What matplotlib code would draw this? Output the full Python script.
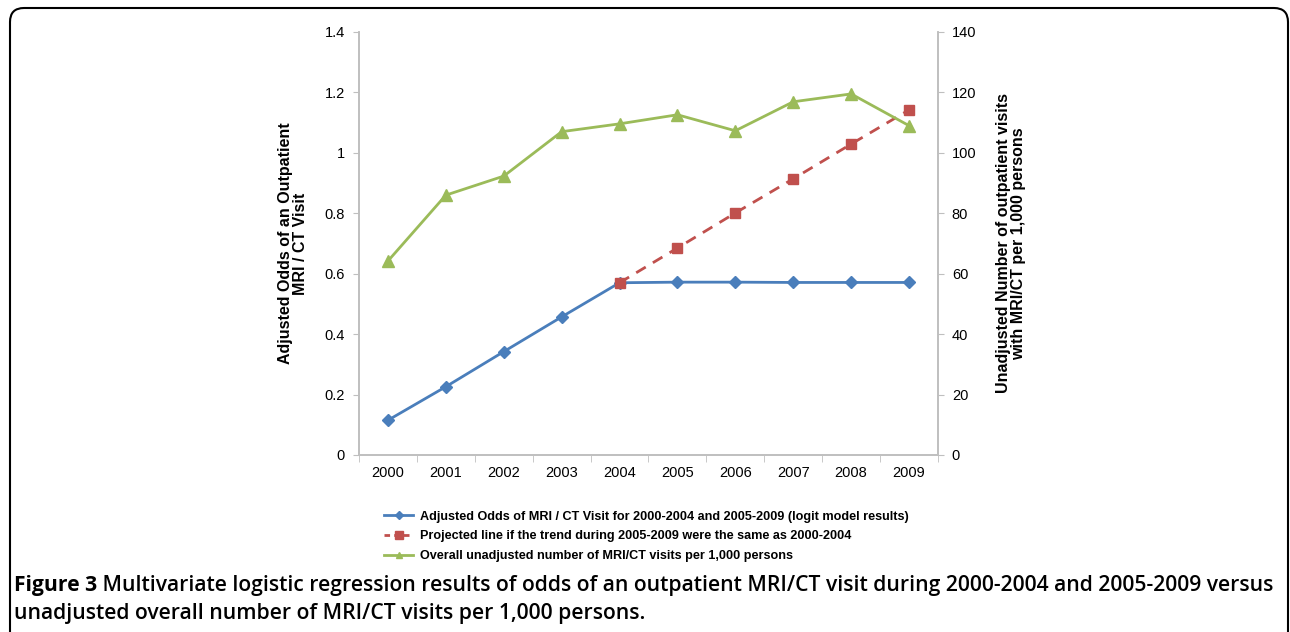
import matplotlib
matplotlib.use("Agg")
import matplotlib.pyplot as plt
from matplotlib.patches import FancyBboxPatch
from matplotlib.lines import Line2D
from matplotlib.transforms import IdentityTransform
from matplotlib import font_manager

years = ["2000", "2001", "2002", "2003", "2004", "2005", "2006", "2007", "2008", "2009"]
adjusted_odds = [0.115, 0.226, 0.342, 0.457, 0.570, 0.572, 0.572, 0.571, 0.571, 0.571]
projected_years = ["2004", "2005", "2006", "2007", "2008", "2009"]
projected_odds = [0.570, 0.685, 0.801, 0.914, 1.029, 1.142]
visits_per_1000 = [64.2, 86.0, 92.3, 107.0, 109.6, 112.6, 107.3, 116.9, 119.5, 109.0]

BLUE = "#4A7EBB"
RED = "#C0504D"
GREEN = "#9BBB59"
GRID = "#BFBFBF"

plt.rcParams["font.family"] = ["Liberation Sans", "DejaVu Sans"]

fig = plt.figure(figsize=(12.9, 6.32), dpi=100)
ax = fig.add_axes([0.2783, 0.2801, 0.4488, 0.6693])
ax2 = ax.twinx()

x = list(range(len(years)))
px = [years.index(y) for y in projected_years]

ax.plot(x, adjusted_odds, color=BLUE, lw=2, marker="D", ms=6, zorder=3)
ax.plot(px, projected_odds, color=RED, lw=2, ls=(0, (4, 3)), marker="s", ms=7.5, zorder=4)
ax2.plot(x, visits_per_1000, color=GREEN, lw=2, marker="^", ms=8)

ax.set_xlim(-0.5, len(years) - 0.5)
ax.set_ylim(0, 1.4)
ax2.set_ylim(0, 140)
ax.set_yticks([0, 0.2, 0.4, 0.6, 0.8, 1.0, 1.2, 1.4])
ax.set_yticklabels(["0", "0.2", "0.4", "0.6", "0.8", "1", "1.2", "1.4"])
ax2.set_yticks(range(0, 141, 20))
ax.set_xticks(x)
ax.set_xticklabels(years)
ax.set_xticks([i - 0.5 for i in range(len(years) + 1)], minor=True)
ax.tick_params(axis="x", which="major", length=0, pad=8, labelsize=10.5)
ax.tick_params(axis="x", which="minor", length=5, color=GRID, direction="out")
ax.tick_params(axis="y", length=4, color=GRID, labelsize=10.5, pad=6)
ax2.tick_params(axis="y", length=4, color=GRID, labelsize=10.5, pad=6)

for a in (ax, ax2):
    a.spines["top"].set_visible(False)
    for s in ("left", "right", "bottom"):
        a.spines[s].set_color(GRID)
        a.spines[s].set_linewidth(1.2)
    a.set_facecolor("none")

ax.set_ylabel("Adjusted Odds of an Outpatient\nMRI / CT Visit", fontsize=11.5, fontweight="bold",
              labelpad=12, linespacing=1.0)
ax2.set_ylabel("Unadjusted Number of outpatient visits\nwith MRI/CT per 1,000 persons", fontsize=11.5,
               fontweight="bold", rotation=90, labelpad=14, linespacing=1.0)

handles = [
    Line2D([], [], color=BLUE, lw=2, marker="D", ms=4),
    Line2D([], [], color=RED, lw=2, ls=(0, (2, 1.5)), marker="s", ms=6),
    Line2D([], [], color=GREEN, lw=2, marker="^", ms=5),
]
labels = [
    "Adjusted Odds of MRI / CT Visit for 2000-2004 and 2005-2009 (logit model results)",
    "Projected line if the trend during 2005-2009 were the same as 2000-2004",
    "Overall unadjusted number of MRI/CT visits per 1,000 persons",
]
fig.legend(handles, labels, loc="upper left", bbox_to_anchor=(0.298, 0.192), frameon=False,
           prop={"weight": "bold", "size": 9.1}, handlelength=2.3, handletextpad=0.5,
           labelspacing=0.62, borderpad=0, borderaxespad=0)

box = FancyBboxPatch((10, -30), 1278, 654, boxstyle="round,pad=0,rounding_size=14",
                     transform=IdentityTransform(), fill=False, ec="black", lw=1.5)
fig.patches.append(box)

cap_family = ["Liberation Sans Narrow", "Liberation Sans", "DejaVu Sans"]
names = {f.name for f in font_manager.fontManager.ttflist}
if "Liberation Sans Narrow" not in names:
    cap_family = ["Open Sans", "DejaVu Sans"]
cap_size = 15.2
t1 = fig.text(0.0105, 1 - 585 / 632, "Figure 3", fontsize=cap_size, fontweight="bold",
              family=cap_family, va="center", ha="left")
fig.canvas.draw()
bb = t1.get_window_extent()
fig.text(bb.x1 / fig.bbox.width, 1 - 585 / 632,
         " Multivariate logistic regression results of odds of an outpatient MRI/CT visit during "
         "2000-2004 and 2005-2009 versus", fontsize=cap_size, family=cap_family, fontweight="semibold",
         va="center", ha="left")
fig.text(0.0105, 1 - 613 / 632, "unadjusted overall number of MRI/CT visits per 1,000 persons.",
         fontsize=cap_size, family=cap_family, fontweight="semibold", va="center", ha="left")

fig.savefig("out.png", dpi=100)
